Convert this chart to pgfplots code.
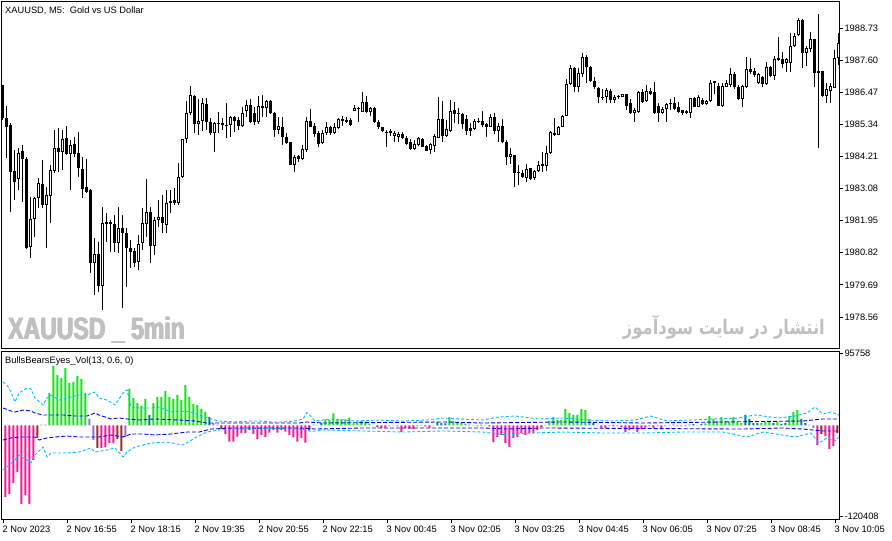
\documentclass[border=0pt]{standalone}
\usepackage{pgfplots}
\pgfplotsset{compat=1.18}
\usepackage{pgfplotstable}
\usepackage{fontspec}
\setmainfont{Liberation Sans}
\newfontfamily\arabicfont[Script=Arabic]{DejaVu Sans}
\TeXXeTstate=1
\newcommand\lbl{\fontsize{9.3}{11}\selectfont}
\definecolor{hgreen}{RGB}{20,228,20}
\definecolor{hteal}{RGB}{0,128,128}
\definecolor{hpurple}{RGB}{147,112,219}
\definecolor{hbrown}{RGB}{160,40,40}
\definecolor{hpink}{RGB}{255,20,147}
\definecolor{dsky}{RGB}{0,191,255}
\definecolor{wm}{RGB}{192,192,192}

\pgfplotstableread{
i o h l c
0 1986.73 1986.73 1985.50 1985.57
1 1985.57 1985.99 1984.16 1985.25
2 1985.32 1985.39 1982.26 1983.67
3 1983.70 1984.44 1982.68 1983.31
4 1983.42 1984.51 1983.03 1984.33
5 1984.40 1984.62 1982.61 1984.12
6 1984.12 1984.19 1980.96 1980.99
7 1981.03 1982.79 1980.64 1982.01
8 1982.01 1982.79 1981.38 1982.75
9 1982.75 1983.46 1982.40 1983.28
10 1983.24 1984.09 1982.40 1982.50
11 1982.50 1983.14 1980.99 1982.86
12 1982.82 1983.91 1981.87 1983.74
13 1983.70 1985.14 1983.63 1984.51
14 1984.51 1985.21 1983.67 1984.37
15 1984.37 1985.14 1983.74 1984.83
16 1984.86 1985.28 1984.26 1984.30
17 1984.30 1984.79 1983.03 1984.62
18 1984.65 1984.90 1984.19 1984.30
19 1984.33 1985.07 1983.49 1983.81
20 1983.77 1984.19 1982.75 1983.07
21 1983.14 1984.12 1982.93 1982.96
22 1983.03 1983.07 1980.11 1980.46
23 1980.46 1981.34 1979.34 1980.78
24 1980.78 1981.20 1979.44 1979.65
25 1979.65 1982.43 1978.81 1981.87
26 1981.91 1982.22 1981.20 1981.84
27 1981.84 1981.98 1980.85 1981.91
28 1981.84 1982.15 1980.85 1981.17
29 1981.17 1982.43 1980.81 1981.69
30 1981.69 1982.15 1978.88 1981.52
31 1981.52 1981.69 1979.62 1980.99
32 1980.99 1981.27 1980.29 1980.85
33 1980.89 1980.99 1980.32 1980.46
34 1980.50 1981.45 1980.22 1981.13
35 1981.17 1982.40 1980.92 1981.87
36 1981.84 1983.42 1981.38 1982.26
37 1982.26 1982.43 1980.46 1981.06
38 1981.06 1982.08 1980.74 1981.98
39 1981.98 1982.68 1981.73 1982.08
40 1982.08 1982.86 1981.52 1981.87
41 1981.80 1983.03 1981.52 1982.57
42 1982.57 1983.03 1982.22 1982.64
43 1982.68 1983.10 1982.50 1982.57
44 1982.57 1983.98 1982.50 1983.49
45 1983.49 1984.83 1983.46 1984.83
46 1984.83 1986.16 1984.69 1985.74
47 1985.74 1986.69 1985.67 1986.38
48 1986.34 1986.38 1985.04 1985.36
49 1985.36 1986.24 1984.97 1985.46
50 1985.46 1986.27 1985.11 1986.09
51 1986.06 1986.27 1985.14 1985.43
52 1985.43 1985.57 1984.97 1985.04
53 1985.04 1985.43 1984.37 1985.39
54 1985.39 1985.78 1985.04 1985.36
55 1985.39 1985.57 1985.14 1985.32
56 1985.32 1986.09 1984.86 1985.28
57 1985.32 1985.64 1984.90 1985.60
58 1985.60 1985.64 1985.07 1985.46
59 1985.50 1985.60 1985.14 1985.28
60 1985.28 1985.95 1985.25 1985.74
61 1985.81 1986.20 1985.60 1986.02
62 1986.02 1986.24 1985.39 1985.43
63 1985.74 1985.95 1985.32 1985.43
64 1985.43 1986.34 1985.36 1985.99
65 1985.92 1986.38 1985.60 1985.99
66 1985.92 1986.20 1985.60 1986.16
67 1986.16 1986.20 1985.71 1985.74
68 1985.74 1985.78 1984.90 1985.14
69 1985.14 1985.60 1985.00 1985.28
70 1985.25 1985.60 1984.62 1984.90
71 1984.90 1985.04 1984.65 1984.69
72 1984.72 1984.72 1983.91 1983.91
73 1983.91 1984.26 1983.67 1984.19
74 1984.23 1984.26 1984.02 1984.12
75 1984.12 1984.62 1984.09 1984.48
76 1984.44 1985.60 1984.37 1985.46
77 1985.46 1985.88 1985.25 1985.25
78 1985.28 1985.39 1984.90 1985.00
79 1985.04 1985.11 1984.55 1984.65
80 1984.69 1985.14 1984.65 1985.04
81 1985.04 1985.43 1984.97 1985.25
82 1985.25 1985.28 1984.97 1985.04
83 1985.04 1985.39 1985.00 1985.25
84 1985.21 1985.57 1985.18 1985.53
85 1985.46 1985.64 1985.28 1985.53
86 1985.50 1985.60 1985.39 1985.43
87 1985.50 1985.57 1985.28 1985.32
88 1985.81 1986.02 1985.81 1985.92
89 1985.92 1985.95 1985.43 1985.88
90 1985.78 1986.48 1985.78 1986.13
91 1986.13 1986.34 1985.74 1985.78
92 1985.78 1985.95 1985.64 1985.92
93 1985.92 1985.95 1985.39 1985.43
94 1985.43 1985.50 1985.18 1985.25
95 1985.25 1985.25 1985.07 1985.11
96 1985.07 1985.14 1984.55 1985.04
97 1985.11 1985.18 1984.93 1985.04
98 1984.93 1985.11 1984.72 1985.04
99 1984.90 1985.07 1984.72 1985.00
100 1985.00 1985.07 1984.83 1984.86
101 1984.86 1984.93 1984.62 1984.65
102 1984.72 1984.83 1984.44 1984.48
103 1984.48 1984.79 1984.44 1984.65
104 1984.62 1984.90 1984.58 1984.86
105 1984.83 1984.86 1984.55 1984.55
106 1984.58 1984.62 1984.40 1984.40
107 1984.44 1984.69 1984.30 1984.65
108 1984.58 1985.00 1984.37 1984.93
109 1984.86 1986.31 1984.86 1985.53
110 1985.53 1986.16 1984.72 1984.93
111 1984.93 1985.50 1984.90 1985.18
112 1985.11 1986.20 1985.07 1985.81
113 1985.85 1986.13 1985.39 1985.71
114 1985.74 1985.92 1985.36 1985.71
115 1985.71 1985.74 1985.18 1985.36
116 1985.53 1985.67 1984.97 1985.11
117 1985.21 1985.39 1984.93 1985.11
118 1985.18 1985.53 1985.14 1985.46
119 1985.43 1985.57 1985.39 1985.46
120 1985.46 1985.81 1985.25 1985.32
121 1985.36 1985.39 1984.90 1985.25
122 1985.25 1985.71 1985.25 1985.60
123 1985.60 1985.74 1985.00 1985.11
124 1985.11 1985.39 1984.72 1985.28
125 1985.28 1985.53 1984.69 1984.72
126 1984.72 1984.79 1983.91 1984.19
127 1984.19 1984.51 1983.95 1984.30
128 1984.26 1984.26 1983.14 1983.63
129 1983.67 1983.91 1983.21 1983.63
130 1983.63 1983.74 1983.46 1983.49
131 1983.46 1983.95 1983.31 1983.77
132 1983.81 1983.81 1983.38 1983.42
133 1983.46 1983.74 1983.38 1983.70
134 1983.70 1984.05 1983.67 1983.91
135 1983.88 1984.37 1983.67 1983.95
136 1983.88 1984.58 1983.70 1984.33
137 1984.33 1985.11 1984.30 1985.07
138 1985.04 1985.57 1984.93 1984.97
139 1984.97 1985.28 1984.97 1985.25
140 1985.25 1985.67 1985.25 1985.64
141 1985.64 1986.94 1985.64 1986.76
142 1986.76 1987.43 1986.73 1987.33
143 1987.33 1987.36 1986.48 1986.66
144 1986.66 1987.33 1986.48 1987.15
145 1987.12 1987.85 1987.01 1987.71
146 1987.71 1987.78 1986.80 1987.36
147 1987.36 1987.40 1986.83 1986.87
148 1986.87 1987.01 1986.59 1986.66
149 1986.62 1986.66 1986.09 1986.31
150 1986.31 1986.59 1986.20 1986.27
151 1986.31 1986.62 1986.09 1986.55
152 1986.52 1986.59 1986.09 1986.20
153 1986.20 1986.38 1986.09 1986.31
154 1986.34 1986.38 1986.24 1986.31
155 1986.31 1986.41 1986.31 1986.41
156 1986.41 1986.41 1985.85 1985.99
157 1986.09 1986.24 1985.71 1985.74
158 1985.74 1985.92 1985.43 1985.85
159 1985.78 1986.52 1985.74 1986.48
160 1986.48 1986.59 1986.09 1986.13
161 1986.16 1986.73 1986.13 1986.52
162 1986.52 1986.62 1986.38 1986.41
163 1986.48 1986.83 1985.71 1985.74
164 1985.99 1986.09 1985.43 1985.74
165 1985.74 1985.95 1985.71 1985.88
166 1985.88 1986.09 1985.43 1986.06
167 1986.06 1986.24 1985.85 1986.09
168 1986.09 1986.31 1985.85 1985.88
169 1985.95 1986.13 1985.74 1985.78
170 1985.85 1985.85 1985.67 1985.74
171 1985.74 1985.85 1985.71 1985.81
172 1985.74 1986.27 1985.57 1986.27
173 1986.27 1986.31 1985.95 1985.95
174 1985.95 1986.38 1985.95 1986.31
175 1986.20 1986.27 1986.02 1986.06
176 1986.06 1986.20 1986.02 1986.16
177 1986.16 1986.90 1986.13 1986.80
178 1986.80 1986.87 1986.41 1986.87
179 1986.69 1986.80 1985.99 1985.99
180 1985.99 1986.80 1985.95 1986.69
181 1986.66 1986.90 1986.66 1986.80
182 1986.73 1987.33 1986.66 1987.12
183 1987.12 1987.19 1986.59 1986.66
184 1986.66 1986.73 1986.20 1986.24
185 1986.24 1986.73 1985.95 1986.69
186 1986.66 1987.71 1986.62 1987.29
187 1987.29 1987.68 1987.12 1987.19
188 1987.22 1987.33 1987.01 1987.08
189 1986.80 1987.15 1986.76 1987.12
190 1987.01 1987.05 1986.66 1986.76
191 1986.76 1987.54 1986.73 1987.36
192 1987.36 1987.40 1987.01 1987.05
193 1987.05 1987.75 1986.90 1987.64
194 1987.68 1988.42 1987.57 1987.61
195 1987.64 1987.89 1987.33 1987.47
196 1987.50 1987.68 1987.19 1987.64
197 1987.50 1988.56 1987.19 1988.10
198 1988.10 1988.56 1988.07 1988.45
199 1988.49 1989.09 1988.45 1989.02
200 1989.02 1989.05 1987.33 1987.85
201 1987.85 1988.10 1987.40 1988.03
202 1988.00 1988.59 1987.89 1988.35
203 1988.35 1988.35 1986.66 1987.15
204 1987.22 1989.23 1984.51 1987.15
205 1987.22 1987.22 1986.31 1986.34
206 1986.34 1986.80 1986.09 1986.59
207 1986.52 1986.80 1986.09 1986.69
208 1986.62 1987.96 1986.62 1987.68
209 1987.68 1988.56 1987.43 1988.21
}\candles

\begin{document}
\begin{tikzpicture}
\path[use as bounding box] (0pt,0pt) rectangle (892pt,541pt);

% ---------------- price window ----------------
\begin{axis}[
  at={(1.5pt,192.5pt)}, anchor=south west, scale only axis,
  width=837.8pt, height=347pt,
  xmin=-0.375, xmax=209.08, ymin=1977.45, ymax=1989.66,
  xtick=\empty,
  ytick={1978.56,1979.69,1980.82,1981.95,1983.08,1984.21,1985.34,1986.47,1987.60,1988.73},
  yticklabels={1978.56,1979.69,1980.82,1981.95,1983.08,1984.21,1985.34,1986.47,1987.60,1988.73},
  ytick pos=right, tick align=outside, major tick length=4pt,
  yticklabel style={font=\lbl, anchor=west, inner sep=0pt, xshift=1pt},
  tick style={black, line width=0.8pt},
  axis line style={line width=1pt},
]
% wicks
\addplot[draw=none, mark=none, forget plot,
  error bars/.cd, y dir=plus, y explicit, error mark=none,
  error bar style={draw=black, solid, line width=1pt}]
  table[x=i, y=l, y error expr=\thisrow{h}-\thisrow{l}] {\candles};
% bearish bodies
\addplot[draw=none, mark=none, forget plot,
  restrict expr to domain={\thisrow{o}-\thisrow{c}}{0.0001:100},
  error bars/.cd, y dir=plus, y explicit, error mark=none,
  error bar style={draw=black, solid, line width=3pt}]
  table[x=i, y=c, y error expr=\thisrow{o}-\thisrow{c}] {\candles};
% bullish bodies: outline
\addplot[draw=none, mark=none, forget plot,
  restrict expr to domain={\thisrow{c}-\thisrow{o}}{0.0001:100},
  error bars/.cd, y dir=plus, y explicit, error mark=none,
  error bar style={draw=black, solid, line width=3pt}]
  table[x=i, y=o, y error expr=\thisrow{c}-\thisrow{o}] {\candles};
% bullish bodies: hollow inside
\addplot[draw=none, mark=none, forget plot,
  restrict expr to domain={\thisrow{c}-\thisrow{o}}{0.075:100},
  error bars/.cd, y dir=plus, y explicit, error mark=none,
  error bar style={draw=white, solid, line width=1pt, shorten <=1pt, shorten >=1pt}]
  table[x=i, y=o, y error expr=\thisrow{c}-\thisrow{o}] {\candles};
\end{axis}

% ---------------- indicator window ----------------
\begin{axis}[
  at={(1.5pt,21.5pt)}, anchor=south west, scale only axis,
  width=837.8pt, height=167.5pt,
  xmin=-0.375, xmax=209.08, ymin=-125110, ymax=97830,
  xtick={0,16,32,48,64,80,96,112,128,144,160,176,192,208},
  xticklabels={2 Nov 2023,2 Nov 16:55,2 Nov 18:15,2 Nov 19:35,2 Nov 20:55,2 Nov 22:15,3 Nov 00:45,3 Nov 02:05,3 Nov 03:25,3 Nov 04:45,3 Nov 06:05,3 Nov 07:25,3 Nov 08:45,3 Nov 10:05},
  xtick pos=bottom,
  ytick={-120408,95758}, yticklabels={-120408,95758},
  ytick pos=right, tick align=outside, major tick length=4pt,
  scaled y ticks=false,
  yticklabel style={font=\lbl, anchor=west, inner sep=0pt, xshift=1pt},
  xticklabel style={font=\lbl, anchor=north west, inner sep=0pt, xshift=-0.5pt, yshift=-2pt},
  tick style={black, line width=0.8pt},
  axis line style={line width=1pt},
]
\addplot[ybar, bar width=2.2pt, bar shift=2.4pt, fill=hpink, draw=none] coordinates {
(0,-95200)(1,-91200)(2,-76500)(3,-61900)(4,-104500)(5,-92500)(6,-104500)(7,-45900)
(24,-29900)(25,-28600)(26,-23300)(27,-23300)
(55,-11300)(56,-21600)(57,-21600)(58,-14900)(59,-10000)(60,-10000)(61,-6000)(62,-11300)(63,-18000)(64,-12600)(65,-15300)(66,-9600)(67,-6000)(68,-9600)(69,-6000)(70,-8300)(71,-12600)(72,-15700)(73,-21600)(74,-16600)(75,-22900)
(94,-3300)(95,-2700)(99,-8700)(100,-3300)(101,-4000)(102,-4700)(106,-2700)
(122,-22000)(123,-15300)(124,-12600)(125,-23300)(126,-28600)(127,-16600)(128,-15300)(129,-10000)(130,-12600)(131,-10000)(132,-10000)(133,-6000)
(149,-3300)(150,-3300)(154,-2000)(155,-8700)(156,-6000)(157,-4700)(158,-8700)(159,-4700)(160,-2700)(162,-3300)(164,-3300)
(203,-26000)(205,-14000)(206,-31300)(207,-27300)};
\addplot[ybar, bar width=2.2pt, bar shift=2.4pt, fill=hbrown, draw=none] coordinates {
(8,-16600)(23,-29900)(28,-18000)(29,-33900)(54,-4700)(76,-6000)(93,-2000)(105,-1300)(121,-1300)(134,-2000)(152,-1300)(204,-11300)(208,-10000)};
\addplot[ybar, bar width=2.2pt, bar shift=2.4pt, fill=hpurple, draw=none] coordinates {
(9,1300)(10,1300)(21,8700)(22,-19300)(30,-15300)(52,3300)(53,1300)(77,1300)(78,700)(92,700)(96,-700)(97,700)(98,-1300)(103,-1300)(104,700)(107,700)(117,700)(118,-700)(120,700)(135,700)(148,700)(151,-700)(153,-700)(161,-1300)(163,-700)(165,-1300)(166,700)(168,-700)(169,-1300)(170,-700)(173,700)(201,1300)(202,-3300)};
\addplot[ybar, bar width=2.2pt, bar shift=2.4pt, fill=hteal, draw=none] coordinates {
(36,14000)(51,11300)(79,3300)(108,4700)(109,3300)(110,2700)(116,1300)(119,1300)(147,3300)(167,1300)(171,1300)(172,2000)(174,2000)(185,14000)(186,8700)(187,3300)(188,3300)(192,3300)(194,2000)(195,3300)(199,8700)(200,3300)};
\addplot[ybar, bar width=2.2pt, bar shift=2.4pt, fill=hgreen, draw=none] coordinates {
(11,43300)(12,79200)(13,67200)(14,63200)(15,76500)(16,56600)(17,57900)(18,65900)(19,61900)(20,43300)
(31,48600)(32,36600)(33,29900)(34,26000)(35,35300)(37,29900)(38,37900)(39,37900)(40,45900)(41,37900)(42,35300)(43,40600)(44,33900)(45,53900)(46,38100)(47,28600)(48,27300)(49,22000)(50,18000)
(80,8300)(81,7300)(82,16200)(83,7300)(84,8300)(85,8300)(86,10400)(87,2900)(88,5100)(89,6400)(90,5100)(91,2000)
(111,11300)(112,6000)(113,3300)(114,3300)(115,2000)
(136,6000)(137,11300)(138,7300)(139,7300)(140,22000)(141,16600)(142,14000)(143,14000)(144,22000)(145,20600)(146,8700)
(175,2700)(176,12600)(177,8700)(178,6000)(179,11300)(180,6000)(181,4700)(182,11300)(183,4700)(184,3300)(189,3300)(190,4700)(191,5300)(193,4700)(196,12600)(197,18000)(198,20600)};
% bands
\addplot[dsky, line width=0.9pt, dash pattern=on 3pt off 2pt, mark=none] coordinates {
(0,57900)(1,53900)(2,44600)(3,31300)(4,43300)(6,49900)(7,48600)(8,36600)(10,27300)(11,36600)(12,40600)(14,33900)(17,37900)(19,40600)(21,40600)(23,44600)(24,36600)(26,33900)(28,27300)(30,43300)(31,47300)(32,24600)(34,23300)(37,23300)(39,24600)(42,18000)(44,19300)(47,18000)(49,14000)(52,8700)(54,6000)(58,4700)(62,6000)(64,6000)(67,4700)(70,4700)(73,6000)(75,8700)(76,17300)(77,12000)(78,6000)(82,8700)(88,6000)(94,7300)(100,6000)(106,7300)(110,10000)(114,8700)(120,7300)(124,11300)(128,12600)(134,8700)(140,10000)(146,7300)(152,6000)(158,7300)(162,12600)(166,6000)(172,7300)(178,8700)(184,10000)(188,14000)(194,10000)(198,12600)(201,16600)(203,24600)(205,15300)(207,18000)(209,14000)};
\addplot[dsky, line width=0.9pt, dash pattern=on 3pt off 2pt, mark=none] coordinates {
(0,-59200)(1,-55200)(3,-45900)(4,-39300)(6,-45900)(7,-49900)(8,-39300)(10,-28600)(11,-41900)(12,-36600)(16,-36600)(19,-35300)(22,-29900)(23,-35300)(26,-32600)(28,-29900)(30,-41900)(31,-35300)(33,-28600)(37,-23300)(41,-22000)(45,-26000)(48,-16600)(51,-8700)(54,-6000)(58,-4700)(63,-4000)(68,-4000)(74,-4700)(76,-6000)(77,-8000)(80,-6000)(90,-7300)(100,-8700)(110,-7300)(120,-8700)(126,-12600)(132,-10000)(140,-8700)(150,-10000)(160,-10000)(170,-8700)(180,-8700)(186,-15300)(190,-8700)(198,-15300)(202,-10000)(204,-23300)(206,-16600)(208,-20600)(209,-15300)};
\addplot[blue, line width=0.9pt, dash pattern=on 4pt off 2pt, mark=none] coordinates {
(0,23300)(2,19300)(3,18000)(5,20600)(7,19300)(8,16600)(10,14000)(15,14000)(18,12600)(21,12600)(23,16600)(24,14000)(27,8700)(29,10000)(31,8700)(34,7300)(38,8700)(44,7300)(48,6000)(51,3300)(59,3300)(69,3300)(74,3300)(76,4700)(80,3300)(110,4700)(120,3300)(140,4700)(160,3300)(180,4700)(200,6000)(205,8700)(209,8700)};
\addplot[blue, line width=0.9pt, dash pattern=on 4pt off 2pt, mark=none] coordinates {
(0,-19300)(2,-16600)(4,-15300)(8,-15300)(9,-19300)(11,-16600)(13,-15300)(16,-14000)(19,-15300)(24,-15300)(27,-12600)(30,-15300)(32,-11300)(35,-11300)(38,-12600)(42,-11300)(46,-8700)(49,-8700)(52,-4700)(58,-3300)(63,-3300)(68,-3300)(74,-3300)(78,-4700)(90,-3300)(120,-3300)(126,-4700)(135,-3300)(185,-4700)(195,-3300)(200,-4700)(205,-7300)(209,-7300)};
\end{axis}

% ---------------- texts ----------------
\node[anchor=base west, inner sep=0pt] at (5pt,527.5pt) {\lbl XAUUSD, M5:\ \ Gold vs US Dollar};
\node[anchor=base west, inner sep=0pt] at (5pt,177.5pt) {\lbl BullsBearsEyes\_Vol(13, 0.6, 0)};
\foreach \dx/\dy in {0/0, 0.7/0, 0/0.5, 0.7/0.5, 1.2/0.25} {
  \node[anchor=base west, inner sep=0pt, text=wm] at (7.6pt+\dx pt,201pt+\dy pt)
    {\scalebox{0.75}[1]{\fontsize{30.7}{32}\selectfont\bfseries XAUUSD \_ 5min}};
}
\node[anchor=base east, inner sep=0pt, text=wm] at (825pt,206pt)
  {\scalebox{0.82}[1]{\arabicfont\bfseries\fontsize{20}{24}\selectfont\beginR انتشار در سایت سودآموز\endR}};
\end{tikzpicture}
\end{document}
